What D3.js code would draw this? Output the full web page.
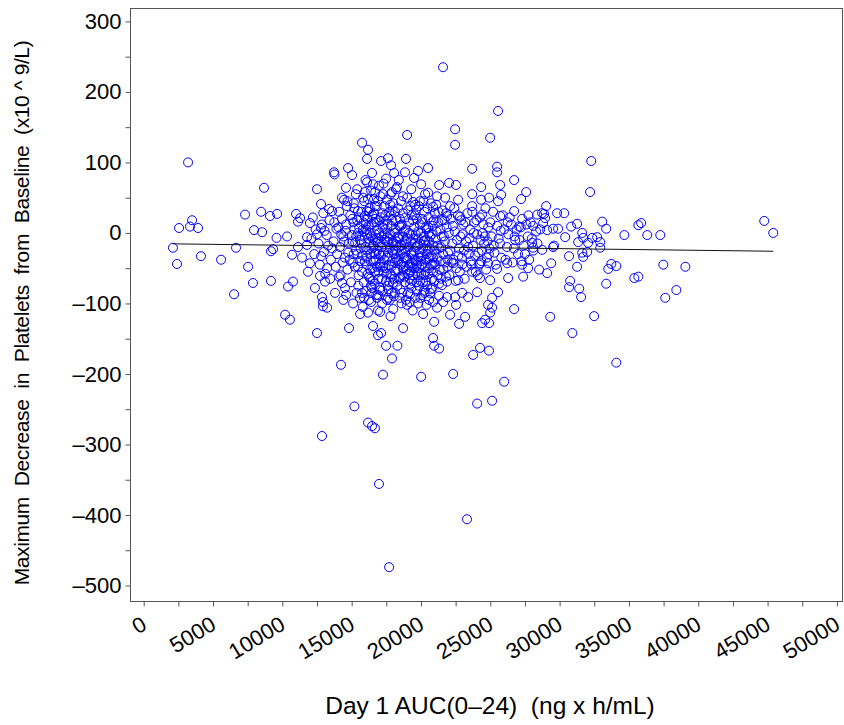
<!DOCTYPE html>
<html>
<head>
<meta charset="utf-8">
<script src="https://cdn.jsdelivr.net/npm/d3@7"></script>
<style>
  html, body { margin: 0; padding: 0; background: #fff; }
  svg { display: block; }
  text { font-family: "Liberation Sans", Arial, sans-serif; fill: #000; }
</style>
</head>
<body>
<svg id="chart" width="844" height="725"></svg>
<script>
// ---- Data (AUC ng*h/mL, change in platelets x10^9/L) ----
const xTicks = [0, 5000, 10000, 15000, 20000, 25000, 30000, 35000, 40000, 45000, 50000];
const xMinorTicks = [2500, 7500, 12500, 17500, 22500, 27500, 32500, 37500, 42500, 47500];
const yTicks = [300, 200, 100, 0, -100, -200, -300, -400, -500];
const yMinorTicks = [250, 150, 50, -50, -150, -250, -350, -450];
const xLabel = "Day 1 AUC(0\u201324)  (ng x h/mL)";
const yLabel = "Maximum  Decrease  in  Platelets  from  Baseline  (x10 ^ 9/L)";
const fitIntercept = -15.0;
const fitSlope = -0.000242;
const fitRange = [2110, 45410];

const leftPoints = [
[2110,-21],[2400,-44],[2550,7],[3200,100],[3340,9],[3490,18],[3920,7],[4130,-33],[5580,-38],[6520,-87],
[6660,-21],[7310,26],[7530,-48],[7880,-71],[7960,4],[8470,30],[8540,1],[8680,64],[9110,24],[9180,-26],
[9330,-23],[9180,-68],[9580,-7],[9620,27],[10340,-5],[10410,-76],[10770,-69],[10200,-116],[10550,-123],[10700,-31],
[10990,27],[11130,-20],[11130,16],[11280,21],[11420,-35],[11780,-6],[11780,-17],[11990,14],[11990,-43],[11850,-55],
[12790,7]
];

const upperPoints = [
[21590,235],[25560,173],[22460,147],[19000,139],[24990,135],[15750,128],[22460,125],[16180,118],[17620,106],[16110,105],
[18920,105],[17120,102],[32280,102],[17840,96],[25490,94],[14740,92],[20510,92],[23690,91],[19790,88],[13730,86],
[18850,86],[25490,86],[13760,83],[16470,85],[18060,85],[15030,82],[17480,77],[26720,75],[16110,72],[22030,71],
[16540,69],[20010,69],[21310,68],[22530,68],[25710,68],[16970,67],[18270,65],[24340,65],[14590,64],[12500,62],
[17910,58],[27590,58],[32200,58],[20510,57],[23690,55],[25780,54],[21160,52],[15820,50],[21740,50],[24910,50],
[14450,47],[17550,47],[22680,47],[24340,47],[27220,48],[25560,45],[19430,44],[12790,41],[16680,38],[22100,38],
[29030,38],[20870,37],[13370,34],[19650,33],[13590,31],[15460,31],[16110,31],[26720,31],[28380,26],[28880,27],
[29820,28],[30330,28],[24410,26],[21880,24],[25710,24],[22820,23],[23690,38]
];

const rightPoints = [
[28740,28],[28950,21],[28810,14],[31260,13],[30830,9],[33070,16],[33360,6],[35680,11],[35880,14],[34670,-3],
[36320,-3],[37260,-3],[29100,4],[29530,6],[29890,6],[28090,10],[27080,9],[30400,-6],[31630,0],[31700,-7],
[32350,-7],[32710,-6],[32930,-13],[31340,-13],[32060,-14],[29530,-20],[28740,-24],[30680,-33],[31630,-28],[31990,-27],
[31700,-34],[32930,-21],[29390,-43],[31260,-48],[29100,-57],[33730,-44],[34090,-47],[33510,-51],[37480,-45],[39070,-48],
[35390,-64],[35680,-62],[33360,-72],[30760,-68],[30680,-77],[31410,-79],[31550,-91],[37620,-92],[38420,-81],[29320,-119],
[32490,-118],[30920,-142],[44760,17],[45410,0],[34090,-184],[28090,-21],[29600,-18],[28020,-14],[26220,-43],[27300,-45],
[27730,-50],[28520,-52],[26290,-64],[27370,-62],[26720,-108]
];

const lowerPoints = [
[12350,-78],[12860,-91],[12930,-98],[13230,-106],[12930,-104],[13080,-69],[13230,-50],[12720,-61],[14090,-62],[14520,-78],
[14310,-71],[12500,-142],[14810,-135],[15610,-115],[16180,-113],[17050,-112],[16540,-132],[16900,-145],[17120,-142],[17480,-160],
[18300,-160],[17910,-178],[15750,-85],[15890,-92],[16470,-78],[16830,-92],[17550,-95],[17050,-81],[18130,-85],[17980,-71],
[25490,-51],[24990,-67],[24260,-64],[23690,-55],[22970,-45],[22320,-43],[24260,-43],[24840,-43],[22680,-67],[21880,-69],
[21520,-74],[25560,-84],[25130,-92],[24840,-102],[25130,-106],[24990,-113],[24630,-123],[24410,-128],[24910,-128],[24050,-84],
[23400,-91],[22970,-85],[22460,-91],[21880,-91],[21310,-89],[20870,-98],[20580,-95],[20220,-82],[19210,-87],[19000,-102],
[21160,-106],[22530,-102],[22100,-116],[23180,-119],[22750,-129],[20150,-115],[20950,-126],[18710,-135],[20870,-149],[20950,-160],
[21310,-164],[24260,-163],[24910,-167],[23760,-173],[15200,-246],[12860,-288],[16180,-269],[16470,-274],[16680,-277],[16970,-356],
[17700,-474],[23320,-406],[24050,-242],[25130,-238],[26000,-211],[14230,-187],[17260,-201],[20010,-204],[22320,-200]
];

const corePoints = [
[12100,-8],[12400,5],[12600,-15],[12850,12],[13000,-27],[13200,-3],[13400,18],[13500,-38],[13700,-12],[13900,6],
[12300,-30],[12700,-45],[13100,-58],[13600,-22],[13850,-48],[12200,22],[12950,28],[13300,-18],[13750,15],[12500,-2],
[13050,3],[13450,-65],[12800,-33],[13950,-30],
[14050,8],[14150,-20],[14300,20],[14400,-5],[14500,-35],[14600,12],[14700,-52],[14800,-15],[14900,25],[15000,-3],
[15100,-42],[15200,5],[15300,-25],[15400,18],[15500,-60],[15600,-10],[15700,30],[15800,-32],[15900,2],[14200,-60],
[14350,-42],[14650,38],[14950,-70],[15150,42],[15350,-85],[15450,-48],[15650,-22],[15850,15],[14100,30],[14450,-12],
[14750,-28],[15050,20],[15250,-14],[15550,8],[15750,-55],[15950,-40],[14250,-2],[14550,3],[14850,-38],[15150,-30],
[15450,0],[15750,-5],[15950,24],[14700,45],[15300,55],
[16000,-20],[16050,5],[16100,-45],[16150,20],[16200,-8],[16250,-62],[16300,35],[16350,-30],[16400,-5],[16450,12],
[16500,-50],[16550,-18],[16600,28],[16650,-72],[16700,-2],[16750,-38],[16800,15],[16850,-25],[16900,45],[16950,-55],
[17000,0],[17050,-15],[17100,22],[17150,-42],[17200,-65],[17250,8],[17300,-28],[17350,38],[17400,-10],[17450,-50],
[17500,18],[17550,-35],[17600,-5],[17650,-80],[17700,30],[17750,-22],[17800,-58],[17850,10],[17900,-40],[17950,-12],
[16080,-35],[16180,48],[16280,-15],[16380,-75],[16480,25],[16580,-40],[16680,-10],[16780,-88],[16880,5],[16980,-30],
[17080,52],[17180,-20],[17280,-48],[17380,-2],[17480,-68],[17580,12],[17680,-45],[17780,40],[17880,-85],[17980,-25],
[16120,-2],[16220,10],[16320,-52],[16420,-22],[16520,-68],[16620,-28],[16720,20],[16820,-48],[16920,-8],[17020,-78],
[17120,-32],[17220,28],[17320,-55],[17420,5],[17520,-20],[17620,-92],[17720,-8],[17820,25],[17920,-62],[18000,42],
[18050,-30],[18100,0],[18150,-55],[18200,18],[18250,-12],[18300,-75],[18350,35],[18400,-40],[18450,-5],[18500,-62],
[18550,10],[18600,-25],[18650,-85],[18700,28],[18750,-48],[18800,-15],[18850,-70],[18900,5],[18950,-35],[19000,50],
[19050,-58],[19100,-20],[19150,15],[19200,-45],[19250,-2],[19300,-78],[19350,25],[19400,-32],[19450,-60],[19500,8],
[19550,-15],[19600,-92],[19650,-40],[19700,20],[19750,-55],[19800,-8],[19850,38],[19900,-28],[19950,-68],[20000,0],
[20050,-45],[20100,15],[20150,-22],[20200,-60],[20250,30],[20300,-10],[20350,-38],[20400,5],[20450,-75],[20500,-25],
[20550,22],[20600,-50],[20650,-5],[20700,42],[20750,-32],[20800,-65],[20850,10],[20900,-18],[20950,-42],[21000,28],
[18120,-42],[18220,-18],[18320,-5],[18420,-65],[18520,-30],[18620,12],[18720,-52],[18820,-22],[18920,-95],[19020,-8],
[19120,-48],[19220,-72],[19320,-28],[19420,18],[19520,-38],[19620,-2],[19720,-82],[19820,-35],[19920,12],[20020,-58],
[18180,5],[18280,-38],[18380,-20],[18480,20],[18580,-45],[18680,-60],[18780,2],[18880,-28],[18980,-52],[19080,32],
[19180,-65],[19280,-12],[19380,-48],[19480,-25],[19580,40],[19680,-70],[19780,-18],[19880,-50],[19980,-35],[20080,-88],
[20120,-32],[20220,-5],[20320,-55],[20420,-18],[20520,8],[20620,-35],[20720,-80],[20820,-45],[20920,18],[20180,45],
[20380,-68],[20580,-12],[20780,-2],[20880,-55],[20980,-25],
[21050,-8],[21150,-35],[21250,15],[21350,-52],[21450,-20],[21550,32],[21650,-5],[21750,-42],[21850,8],[21950,-28],
[22050,-60],[22150,20],[22250,-15],[22350,-38],[22450,2],[22550,-50],[22650,25],[22750,-22],[22850,-5],[22950,-35],
[23050,12],[23150,-65],[23250,-12],[23350,28],[23450,-30],[23550,5],[23650,-45],[23750,-18],[23850,15],[23950,-55],
[24050,-2],[24150,-28],[24250,22],[24350,-40],[24450,0],[24550,-15],[24650,35],[24750,-35],[24850,8],[24950,-22],
[21100,40],[21300,-72],[21500,-5],[21700,18],[21900,-48],[22100,-25],[22300,10],[22500,-68],[22700,-32],[22900,18],
[23100,-25],[23300,-48],[23500,-8],[23700,30],[23900,-32],[24100,-60],[24300,-10],[24500,12],[24700,-52],[24900,-30],
[21200,-18],[21400,5],[21600,-30],[21800,-62],[22000,0],[22200,-42],[22400,35],[22600,-10],[22800,-55],[23000,-2],
[23200,15],[23400,-20],[23600,-40],[23800,0],[24000,18],[24200,-45],[24400,-25],[24600,-5],[24800,-12],[25000,15],
[25100,-5],[25300,-28],[25500,10],[25700,-15],[25900,25],[26100,-38],[26300,-2],[26500,12],[26700,-22],[26900,5],
[27100,-10],[27300,20],[27500,-30],[27700,-5],[27900,15],[28100,-25],[28300,2],[25200,30],[25400,-45],[25600,-8],
[25800,-35],[26000,5],[26200,-20],[26400,22],[26600,-42],[26800,-10],[27000,-30],[27200,8],[27400,-18],[27600,12],
[27800,-38],[28000,-8],[28400,-15],[28600,5],[25250,-18],[25750,3],[26250,15],[26750,-5],[27250,-40],[27750,25],
[15400,62],[16000,75],[16700,58],[17300,70],[18200,62],[18700,52],[19300,62],[20300,55],[15900,45],[17800,55],
[18400,75],[19500,78],[14300,50],[16400,60],
[14400,-95],[15100,-100],[15800,-105],[16400,-98],[17200,-100],[18000,-108],[18600,-100],[19400,-110],[20400,-102],[21600,-98],
[15600,-92],[17800,-118],[19800,-100],[16900,-110],[13800,-85],[14600,-88]
];

const denseCorePoints = [
[15050,-12],[15120,15],[15230,-48],[15330,-5],[15420,-30],[15520,22],[15610,-40],[15720,-15],[15810,5],[15880,-70],
[16030,12],[16110,-25],[16170,-58],[16240,30],[16310,0],[16370,-40],[16440,-85],[16530,-8],[16590,15],[16660,-55],
[16730,-30],[16810,38],[16870,-12],[16930,-65],[17010,18],[17070,-48],[17140,-5],[17210,-82],[17290,12],[17360,-38],
[17430,25],[17510,-58],[17570,-12],[17640,-28],[17710,-70],[17790,-2],[17860,-48],[17930,18],[18020,-15],[18080,-65],
[18140,30],[18210,-35],[18290,-52],[18360,-8],[18430,10],[18510,-80],[18570,-18],[18640,-42],[18710,-5],[18790,-62],
[18860,22],[18930,-12],[19010,-38],[19070,-85],[19140,0],[19230,-55],[19290,-30],[19360,-68],[19430,-8],[19510,-50],
[19570,25],[19640,-20],[19710,-45],[19790,2],[19860,-75],[19930,-15],[20010,-40],[20070,20],[20140,-70],[20210,-12],
[20290,-48],[20360,8],[20430,-30],[20510,-58],[20570,0],[20640,-22],[20710,-45],[20790,15],[20860,-35],[20940,-68],
[21020,-45],[21120,2],[21220,-60],[21320,-22],[21420,-40],[21520,18],[21620,-52],[21720,-12],[21820,28],[21920,-38],
[16060,-82],[16900,-88],[17740,-95],[18470,-92],[19190,-98],[19960,-92],[20660,-85],[15480,-75],[16260,-95],[18040,-90],
[15200,35],[15950,58],[16620,48],[17270,55],[17960,32],[18560,45],[19240,38],[19920,45],[20460,35],[21260,30],
[16340,-65],[17040,-45],[17620,-75],[18160,-25],[18760,-35],[19330,-42],[19760,-60],[20260,-85],[20830,-78],[21440,-65]
];

const allPoints = [].concat(leftPoints, upperPoints, rightPoints, lowerPoints, corePoints, denseCorePoints);

// ---- Layout ----
const svg = d3.select("#chart");
const plot = { left: 130, right: 843, top: 8, bottom: 601 };
const axisColor = "#555";
const tickFont = '"Liberation Sans", Arial, sans-serif';

const x = d3.scaleLinear().domain([-988, 50440]).range([plot.left, plot.right]);
const y = d3.scaleLinear().domain([-522, 319]).range([plot.bottom, plot.top]);

// Frame
svg.append("rect")
  .attr("x", plot.left + 0.5).attr("y", plot.top + 0.5)
  .attr("width", plot.right - plot.left - 1).attr("height", plot.bottom - plot.top)
  .attr("fill", "none").attr("stroke", axisColor).attr("stroke-width", 1);

// Y axis
const yAxis = svg.append("g").attr("transform", `translate(${plot.left + 0.5},0)`)
  .call(d3.axisLeft(y).tickValues(yTicks).tickSize(5).tickSizeOuter(0)
        .tickFormat(d => d < 0 ? "\u2013" + Math.abs(d) : String(d)));
yAxis.select(".domain").remove();
yAxis.selectAll("text")
  .attr("x", -9)
  .style("font-size", "22px")
  .style("font-family", tickFont);
const yMinor = svg.append("g").attr("transform", `translate(${plot.left + 0.5},0)`)
  .call(d3.axisLeft(y).tickValues(yMinorTicks).tickSize(5).tickFormat(""));
yMinor.select(".domain").remove();

// X axis
const xAxis = svg.append("g").attr("transform", `translate(0,${plot.bottom + 0.5})`)
  .call(d3.axisBottom(x).tickValues(xTicks).tickSize(5).tickSizeOuter(0).tickFormat(d => String(d)));
xAxis.select(".domain").remove();
xAxis.selectAll("text")
  .style("font-size", "22px")
  .style("font-family", tickFont)
  .attr("text-anchor", "end")
  .attr("dy", null)
  .attr("y", 0)
  .attr("transform", "translate(4,27) rotate(-31)");
const xMinor = svg.append("g").attr("transform", `translate(0,${plot.bottom + 0.5})`)
  .call(d3.axisBottom(x).tickValues(xMinorTicks).tickSize(5).tickFormat(""));
xMinor.select(".domain").remove();

svg.selectAll(".tick line").attr("stroke", axisColor);

// Axis labels
svg.append("text")
  .attr("x", 490).attr("y", 714)
  .attr("text-anchor", "middle")
  .style("font-size", "24.5px")
  .style("white-space", "pre")
  .attr("xml:space", "preserve")
  .text(xLabel);

svg.append("text")
  .attr("transform", "translate(29,313) rotate(-90)")
  .attr("text-anchor", "middle")
  .style("font-size", "21px")
  .style("letter-spacing", "-0.4px")
  .style("white-space", "pre")
  .attr("xml:space", "preserve")
  .text(yLabel);

// Points
svg.append("g")
  .selectAll("circle")
  .data(allPoints)
  .join("circle")
  .attr("cx", d => x(d[0]))
  .attr("cy", d => y(d[1]))
  .attr("r", 4.5)
  .attr("fill", "none")
  .attr("stroke", "#0000ff")
  .attr("stroke-width", 1);

// Fitted line
svg.append("line")
  .attr("x1", x(fitRange[0])).attr("y1", y(fitIntercept + fitSlope * fitRange[0]))
  .attr("x2", x(fitRange[1])).attr("y2", y(fitIntercept + fitSlope * fitRange[1]))
  .attr("stroke", "#111").attr("stroke-width", 1);
</script>
</body>
</html>
